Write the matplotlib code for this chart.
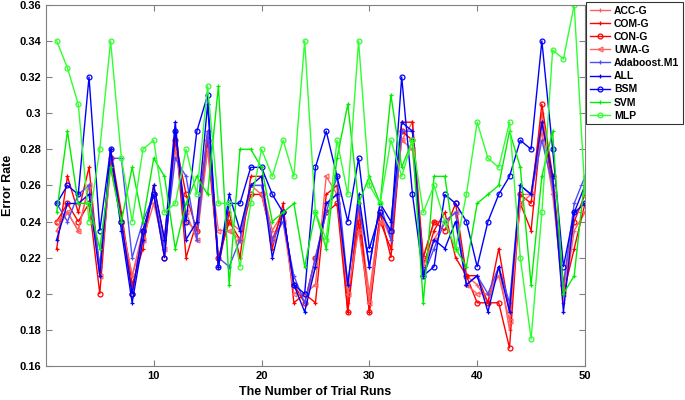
import numpy as np
import matplotlib
matplotlib.use("Agg")
import matplotlib.pyplot as plt

plt.rcParams['font.family'] = ['Liberation Sans', 'DejaVu Sans']
plt.rcParams['font.weight'] = 'bold'

runs = np.arange(1, 51)

acc_g = [0.235, 0.245, 0.235, 0.26, 0.215, 0.275, 0.24, 0.21, 0.235, 0.255,
         0.225, 0.285, 0.24, 0.235, 0.28, 0.22, 0.24, 0.235, 0.26, 0.26,
         0.235, 0.245, 0.205, 0.195, 0.215, 0.25, 0.255, 0.195, 0.245, 0.2,
         0.245, 0.23, 0.285, 0.295, 0.22, 0.24, 0.24, 0.245, 0.21, 0.205,
         0.195, 0.215, 0.18, 0.255, 0.255, 0.3, 0.26, 0.195, 0.235, 0.245]
com_g = [0.225, 0.265, 0.245, 0.27, 0.21, 0.28, 0.245, 0.205, 0.225, 0.26,
         0.23, 0.29, 0.22, 0.24, 0.29, 0.215, 0.245, 0.22, 0.265, 0.265,
         0.225, 0.25, 0.195, 0.2, 0.195, 0.255, 0.26, 0.19, 0.25, 0.19,
         0.24, 0.225, 0.295, 0.295, 0.215, 0.235, 0.245, 0.22, 0.21, 0.21,
         0.195, 0.225, 0.19, 0.25, 0.235, 0.295, 0.26, 0.2, 0.225, 0.25]
con_g = [0.24, 0.25, 0.24, 0.25, 0.2, 0.275, 0.24, 0.2, 0.235, 0.255,
         0.22, 0.285, 0.255, 0.235, 0.285, 0.22, 0.24, 0.23, 0.255, 0.255,
         0.23, 0.245, 0.205, 0.195, 0.22, 0.245, 0.25, 0.19, 0.24, 0.19,
         0.245, 0.22, 0.29, 0.285, 0.22, 0.24, 0.235, 0.25, 0.21, 0.195,
         0.195, 0.195, 0.17, 0.255, 0.25, 0.305, 0.265, 0.205, 0.24, 0.255]
uwa_g = [0.24, 0.245, 0.235, 0.26, 0.21, 0.27, 0.24, 0.21, 0.23, 0.25,
         0.225, 0.28, 0.245, 0.23, 0.28, 0.235, 0.235, 0.23, 0.26, 0.255,
         0.23, 0.24, 0.2, 0.2, 0.205, 0.265, 0.255, 0.2, 0.235, 0.195,
         0.24, 0.235, 0.285, 0.28, 0.215, 0.23, 0.24, 0.245, 0.205, 0.2,
         0.2, 0.21, 0.185, 0.25, 0.255, 0.29, 0.255, 0.2, 0.245, 0.245]
adaboost = [0.25, 0.24, 0.255, 0.26, 0.215, 0.275, 0.275, 0.22, 0.24, 0.255,
            0.225, 0.275, 0.265, 0.23, 0.29, 0.22, 0.215, 0.23, 0.26, 0.26,
            0.23, 0.24, 0.21, 0.195, 0.22, 0.245, 0.265, 0.205, 0.25, 0.215,
            0.25, 0.23, 0.29, 0.29, 0.21, 0.225, 0.24, 0.245, 0.205, 0.21,
            0.2, 0.215, 0.195, 0.26, 0.255, 0.285, 0.26, 0.205, 0.25, 0.265]
all_ = [0.23, 0.25, 0.25, 0.255, 0.21, 0.28, 0.235, 0.195, 0.23, 0.26,
        0.23, 0.295, 0.23, 0.24, 0.305, 0.215, 0.255, 0.235, 0.26, 0.265,
        0.22, 0.245, 0.205, 0.19, 0.215, 0.25, 0.255, 0.205, 0.255, 0.215,
        0.25, 0.24, 0.295, 0.29, 0.21, 0.23, 0.225, 0.24, 0.205, 0.21,
        0.19, 0.215, 0.19, 0.26, 0.255, 0.295, 0.265, 0.19, 0.245, 0.26]
bsm = [0.25, 0.26, 0.255, 0.32, 0.235, 0.28, 0.24, 0.2, 0.235, 0.255,
       0.22, 0.29, 0.24, 0.29, 0.31, 0.215, 0.25, 0.25, 0.27, 0.27,
       0.255, 0.245, 0.205, 0.2, 0.27, 0.29, 0.265, 0.24, 0.275, 0.225,
       0.245, 0.235, 0.32, 0.255, 0.21, 0.215, 0.255, 0.25, 0.24, 0.215,
       0.24, 0.255, 0.265, 0.285, 0.28, 0.34, 0.28, 0.215, 0.245, 0.25]
svm = [0.245, 0.29, 0.25, 0.25, 0.225, 0.27, 0.24, 0.27, 0.24, 0.275,
       0.265, 0.225, 0.25, 0.265, 0.255, 0.315, 0.205, 0.28, 0.28, 0.27,
       0.24, 0.245, 0.25, 0.215, 0.245, 0.225, 0.275, 0.305, 0.25, 0.265,
       0.25, 0.31, 0.27, 0.285, 0.195, 0.265, 0.265, 0.225, 0.215, 0.25,
       0.255, 0.26, 0.29, 0.27, 0.205, 0.265, 0.29, 0.2, 0.21, 0.265]
mlp = [0.34, 0.325, 0.305, 0.24, 0.28, 0.34, 0.275, 0.24, 0.28, 0.285,
       0.245, 0.25, 0.28, 0.255, 0.315, 0.25, 0.25, 0.215, 0.25, 0.28,
       0.265, 0.285, 0.265, 0.34, 0.245, 0.23, 0.285, 0.255, 0.34, 0.26,
       0.25, 0.285, 0.265, 0.285, 0.245, 0.26, 0.24, 0.225, 0.255, 0.295,
       0.275, 0.27, 0.295, 0.22, 0.175, 0.245, 0.335, 0.33, 0.36, 0.255]

names = ['ACC-G', 'COM-G', 'CON-G', 'UWA-G', 'Adaboost.M1', 'ALL', 'BSM', 'SVM', 'MLP']
series = [acc_g, com_g, con_g, uwa_g, adaboost, all_, bsm, svm, mlp]
colors = ['#ff6060', '#ff0000', '#ff0000', '#ff6060', '#4d4dff', '#0000ff', '#0000ff', '#00ee00', '#30ff30']
markers = ['+', '+', 'o', '<', '+', '+', 'o', '+', 'o']

fig = plt.figure(figsize=(6.85, 4.0), dpi=100)
ax = fig.add_axes([0.067, 0.085, 0.787, 0.903])

for vals, name, c, m in zip(series, names, colors, markers):
    ax.plot(runs, vals, color=c, marker=m, markersize=3.5, linewidth=1,
            markerfacecolor='none', markeredgewidth=0.9, label=name)

ax.set_xlim(0, 50)
ax.set_ylim(0.16, 0.36)
ax.set_xticks([10, 20, 30, 40, 50])
ax.set_yticks(np.arange(0.16, 0.361, 0.02))
ax.set_yticklabels(['0.16', '0.18', '0.2', '0.22', '0.24', '0.26', '0.28', '0.3', '0.32', '0.34', '0.36'])
ax.tick_params(direction='in', top=True, right=True, labelsize=8, color='#808080', length=4)
for s in ax.spines.values():
    s.set_color('#808080')
ax.set_xlabel('The Number of Trial Runs', fontsize=9, fontweight='bold')
ax.set_ylabel('Error Rate', fontsize=9, fontweight='bold')

leg = fig.legend(loc='upper left', bbox_to_anchor=(0.856, 0.995), fontsize=7.5,
                 fancybox=False, edgecolor='black', handlelength=1.9,
                 borderpad=0.35, labelspacing=0.3, handletextpad=0.4,
                 borderaxespad=0.0)
leg.get_frame().set_linewidth(0.8)

fig.savefig('out.png', dpi=100)
plt.close()
